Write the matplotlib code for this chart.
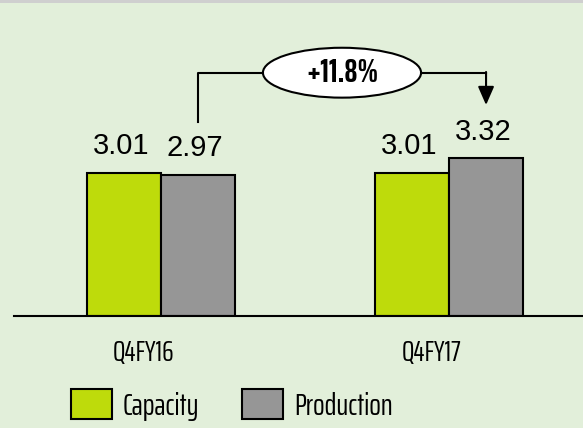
import matplotlib.pyplot as plt
from matplotlib.patches import Ellipse, Patch
import numpy as np

# data
quarters = ["Q4FY16", "Q4FY17"]
capacity = [3.01, 3.01]
production = [2.97, 3.32]
growth_label = "+11.8%"

bg = "#e2efda"
green = "#bedb0b"
grey = "#969696"
narrow = ["Saira ExtraCondensed", "DejaVu Sans"]

fig = plt.figure(figsize=(5.83, 4.28), dpi=100)
fig.patch.set_facecolor(bg)
ax = fig.add_axes([0.024, 0.2617, 0.976, 0.7383])
ax.set_facecolor(bg)

x = np.arange(len(quarters))
w = 0.257
b1 = ax.bar(x - w / 2, capacity, w, color=green, edgecolor="black", linewidth=1.5, label="Capacity")
b2 = ax.bar(x + w / 2, production, w, color=grey, edgecolor="black", linewidth=1.5, label="Production")

for bars, vals in [(b1, capacity), (b2, production)]:
    for r, v in zip(bars, vals):
        ax.annotate(f"{v:.2f}", (r.get_x() + r.get_width() / 2 - 0.01, v), xytext=(0, 9),
                    textcoords="offset points", ha="center", va="bottom",
                    fontsize=21, family="Liberation Sans")

ax.set_xlim(-0.51, 1.465)
ax.set_ylim(0, 6.65)
for s in ["top", "right", "left"]:
    ax.spines[s].set_visible(False)
ax.spines["bottom"].set_linewidth(1.5)
ax.set_yticks([])
ax.set_xticks([])

# category labels
for xi, q in zip(x, quarters):
    ax.text(xi - 0.06, -0.78, q, ha="center", va="center", fontsize=21, family=narrow)

# growth bracket
top = 5.12
x0 = x[0] + w / 2
x1 = x[1] + w / 2
xm = (x0 + x1) / 2
ell_w, ell_h = 0.549, 1.05
ax.plot([x0, x0, xm - ell_w / 2], [4.08, top, top], color="black", lw=1.5, clip_on=False)
ax.plot([xm + ell_w / 2, x1], [top, top], color="black", lw=1.5, clip_on=False)
ax.annotate("", xy=(x1, 4.44), xytext=(x1, top + 0.015),
            arrowprops=dict(arrowstyle="-|>,head_width=0.35,head_length=0.8", color="black", lw=1.5,
                            shrinkA=0, shrinkB=0, mutation_scale=14))
ax.add_patch(Ellipse((xm, top), ell_w, ell_h, facecolor="white", edgecolor="black", lw=1.5, clip_on=False))
ax.text(xm, top, growth_label, ha="center", va="center", fontsize=23, fontweight="bold", family=narrow)

# legend
handles = [Patch(facecolor=green, edgecolor="black", lw=1.5), Patch(facecolor=grey, edgecolor="black", lw=1.5)]
fig.legend(handles, ["Capacity", "Production"], loc="center left", bbox_to_anchor=(71 / 583, 1 - 405 / 428),
           ncol=2, frameon=False, prop={"family": narrow, "size": 22}, handlelength=1.34, handleheight=1.14,
           handletextpad=0.36, columnspacing=1.4, borderpad=0, borderaxespad=0)

# thin grey strip at the top
fig.add_artist(plt.Rectangle((0, 1 - 3 / 428), 1, 3 / 428, transform=fig.transFigure, color="#cfcfcf", lw=0))

fig.savefig("out.png", dpi=100, facecolor=bg)
